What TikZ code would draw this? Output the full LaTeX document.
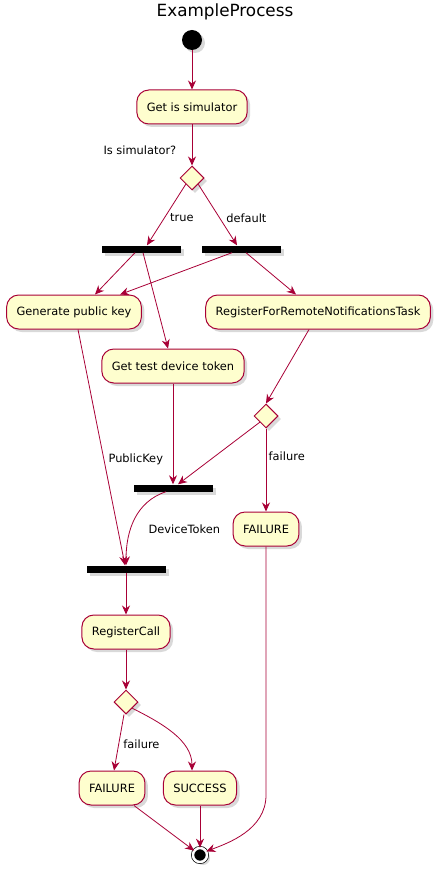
\documentclass[tikz,border=0pt]{standalone}
\usepackage{fontspec}
\setmainfont{DejaVu Sans}
\usetikzlibrary{arrows.meta, positioning, shapes.geometric, shadows}
\definecolor{umlred}{HTML}{A80036}
\definecolor{umlfill}{HTML}{FEFECE}

\begin{document}
\begin{tikzpicture}[x=1pt, y=-1pt, >={Stealth[length=9pt, width=8pt, inset=3pt]},
    font=\fontsize{11.4}{13}\selectfont,
    shade/.style={drop shadow={shadow xshift=3pt, shadow yshift=-3pt, opacity=0.3}},
    act/.style={draw=umlred, fill=umlfill, line width=1pt, rounded corners=12pt, minimum height=34pt, inner xsep=10pt, shade},
    bar/.style={fill=black, minimum width=79pt, minimum height=7pt, inner sep=0pt, shade},
    dec/.style={diamond, draw=umlred, fill=umlfill, line width=1pt, minimum size=24pt, inner sep=0pt, shade},
    flow/.style={->, draw=umlred, line width=0.8pt}]
  \useasboundingbox (0,0) rectangle (442,877);

  \node[font=\fontsize{16.8}{19}\selectfont] (title) at (225,12) {ExampleProcess};
  \node[circle, fill=black, minimum size=20pt, inner sep=0pt, shade] (start) at (192,40) {};
  \node[act] (gsim) at (192,107) {Get is simulator};
  \node[dec] (dsim) at (192,178) {};
  \node[bar] (forkA) at (141,249) {};
  \node[bar] (forkB) at (241,249) {};
  \node[act] (gpk) at (74,312) {Generate public key};
  \node[act] (reg) at (318,312) {RegisterForRemoteNotificationsTask};
  \node[act] (gtd) at (173,366) {Get test device token};
  \node[dec] (dreg) at (266,416) {};
  \node[bar] (joinA) at (173,488) {};
  \node[act] (failA) at (266,529) {FAILURE};
  \node[bar] (joinB) at (126,569) {};
  \node[act] (rcall) at (126,632) {RegisterCall};
  \node[dec] (dcall) at (126,702) {};
  \node[act] (failB) at (112,788) {FAILURE};
  \node[act] (succ) at (200,788) {SUCCESS};
  \node[circle, draw=black, fill=black, line width=0.7pt, minimum size=14pt, inner sep=0pt, double=white, double distance=2.5pt, shade] (stop) at (200,855) {};
  \coordinate (turn) at (266,795);

  \draw[flow] (start) -- (gsim);
  \draw[flow] (gsim) -- node[pos=0.64, left=12pt] {Is simulator?} (dsim);
  \draw[flow] (dsim.south west) -- node[pos=0.55, right=2pt] {true} ([xshift=6pt]forkA.north);
  \draw[flow] (dsim.south east) -- node[pos=0.55, right=3pt] {default} ([xshift=-4pt]forkB.north);
  \draw[flow] ([xshift=-6pt]forkA.south) -- ([xshift=21pt]gpk.north);
  \draw[flow] ([xshift=2pt]forkA.south) -- ([xshift=-5pt]gtd.north);
  \draw[flow] ([xshift=-9pt]forkB.south) -- ([xshift=46pt]gpk.north);
  \draw[flow] ([xshift=5pt]forkB.south) -- ([xshift=-22pt]reg.north);
  \draw[flow] ([xshift=4pt]gpk.south) -- node[pos=0.55, right=1pt] {PublicKey} ([xshift=-1pt]joinB.north);
  \draw[flow] (gtd) -- (joinA);
  \draw[flow] ([xshift=-9pt]reg.south) -- (dreg.north);
  \draw[flow] (dreg.south west) -- ([xshift=5pt]joinA.north);
  \draw[flow] (dreg.south) -- node[pos=0.33, right=-1pt] {failure} (failA.north);
  \draw[flow] ([xshift=-7pt]joinA.south) .. controls +(-30,10) and +(0,-35) .. node[pos=0.62, right=14pt] {DeviceToken} (joinB.north);
  \draw[flow] (joinB) -- (rcall);
  \draw[flow] (rcall) -- (dcall);
  \draw[flow] ([xshift=-2pt]dcall.south) -- node[pos=0.53, right=1pt] {failure} ([xshift=2pt]failB.north);
  \draw[flow] (dcall.south east) .. controls +(30,15) and +(0,-30) .. ([xshift=-8pt]succ.north);
  \draw[flow] ([xshift=22pt]failB.south) -- (stop);
  \draw[flow] (succ) -- (stop);
  \draw[flow] (failA.south) -- (turn) .. controls +(0,35) and +(21,-8) .. (stop.30);
\end{tikzpicture}
\end{document}
